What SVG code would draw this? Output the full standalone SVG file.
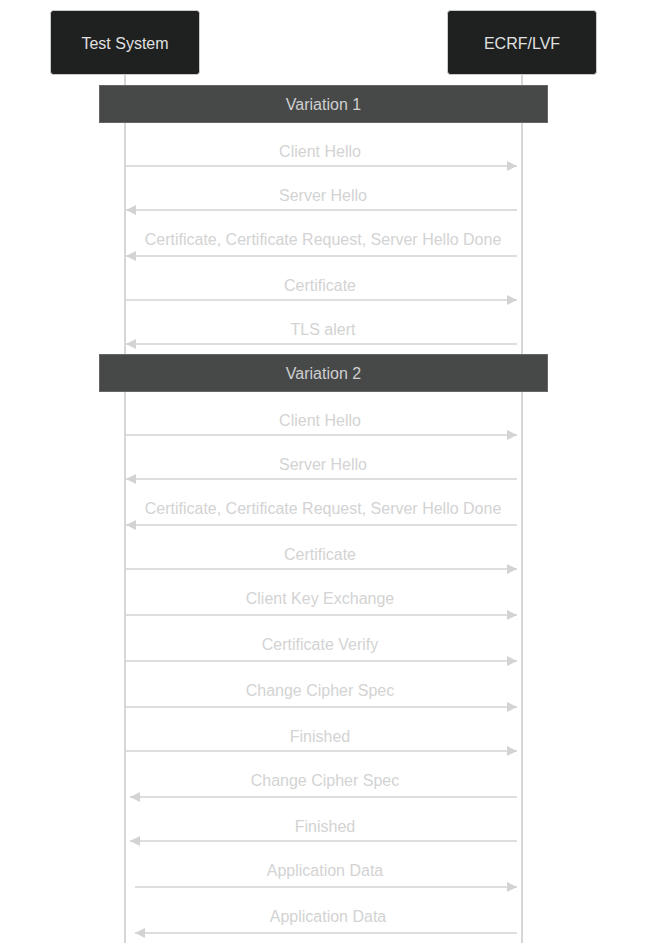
<svg xmlns="http://www.w3.org/2000/svg" width="647" height="943" viewBox="0 0 647 943">
<defs>
<marker id="ah" markerWidth="10" markerHeight="10" refX="10" refY="5" viewBox="0 0 10 10" markerUnits="userSpaceOnUse" orient="auto"><path d="M0,0 L10,5 L0,10 z" fill="#d3d3d3"/></marker>
<style>
.actor{fill:#1f2020;stroke:#cccccc;stroke-width:1}
.at{font-family:"Liberation Sans",Arial,sans-serif;font-size:16px;fill:#e0e0e0;text-anchor:middle}
.life{stroke:#c8c8c8;stroke-width:1.5}
.note{fill:#474949;stroke:#666666;stroke-width:1}
.nt{font-family:"Liberation Sans",Arial,sans-serif;font-size:16px;fill:#d0d0d0;text-anchor:middle}
.msg{stroke:#d3d3d3;stroke-width:1.5;fill:none;marker-end:url(#ah)}
.mt{font-family:"Liberation Sans",Arial,sans-serif;font-size:16px;fill:#d3d3d3;text-anchor:middle}
</style>
</defs>
<rect width="647" height="943" fill="#ffffff"/>
<g id="lifelines">
<line class="life" x1="125" y1="74" x2="125" y2="943"/>
<line class="life" x1="522" y1="74" x2="522" y2="943"/>
</g>
<g id="actor-test-system">
<rect class="actor" x="50.5" y="10.5" width="149" height="64" rx="3"/>
<text class="at" x="125" y="49">Test System</text>
</g>
<g id="actor-ecrf-lvf">
<rect class="actor" x="447.5" y="10.5" width="149" height="64" rx="3"/>
<text class="at" x="522" y="49">ECRF/LVF</text>
</g>
<g id="note-variation-1">
<rect class="note" x="99.5" y="85.5" width="448" height="37"/>
<text class="nt" x="323.5" y="110">Variation 1</text>
</g>
<g id="note-variation-2">
<rect class="note" x="99.5" y="354.5" width="448" height="37"/>
<text class="nt" x="323.5" y="379">Variation 2</text>
</g>
<g id="connectors">
<path class="msg" d="M125,166 H517"/>
<path class="msg" d="M517,210 H126"/>
<path class="msg" d="M517,256 H126"/>
<path class="msg" d="M125,300 H517"/>
<path class="msg" d="M517,344 H126"/>
<path class="msg" d="M125,435 H517"/>
<path class="msg" d="M517,479 H126"/>
<path class="msg" d="M517,525 H126"/>
<path class="msg" d="M125,569 H517"/>
<path class="msg" d="M125,615 H517"/>
<path class="msg" d="M125,661 H517"/>
<path class="msg" d="M125,707 H517"/>
<path class="msg" d="M125,751 H517"/>
<path class="msg" d="M517,797 H130"/>
<path class="msg" d="M517,841 H130"/>
<path class="msg" d="M135,887 H517"/>
<path class="msg" d="M517,933 H135"/>
</g>
<g id="labels">
<text class="mt" x="320" y="157">Client Hello</text>
<text class="mt" x="323" y="201">Server Hello</text>
<text class="mt" x="323" y="245">Certificate, Certificate Request, Server Hello Done</text>
<text class="mt" x="320" y="291">Certificate</text>
<text class="mt" x="323" y="335">TLS alert</text>
<text class="mt" x="320" y="426">Client Hello</text>
<text class="mt" x="323" y="470">Server Hello</text>
<text class="mt" x="323" y="514">Certificate, Certificate Request, Server Hello Done</text>
<text class="mt" x="320" y="560">Certificate</text>
<text class="mt" x="320" y="604">Client Key Exchange</text>
<text class="mt" x="320" y="650">Certificate Verify</text>
<text class="mt" x="320" y="696">Change Cipher Spec</text>
<text class="mt" x="320" y="742">Finished</text>
<text class="mt" x="325" y="786">Change Cipher Spec</text>
<text class="mt" x="325" y="832">Finished</text>
<text class="mt" x="325" y="876">Application Data</text>
<text class="mt" x="328" y="922">Application Data</text>
</g>
</svg>
